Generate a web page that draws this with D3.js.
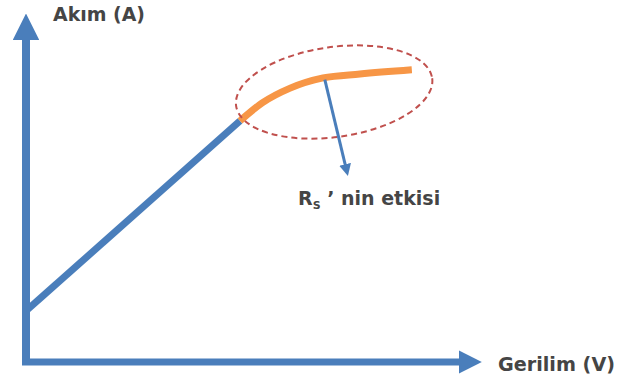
<!DOCTYPE html>
<meta charset="utf-8">
<script src="https://d3js.org/d3.v7.min.js"></script>
<style>
  body { margin: 0; background: #fff; }
  text { font-family: "DejaVu Sans", sans-serif; font-weight: bold; fill: #454545; }
</style>
<div id="my_dataviz"></div>
<script>
    // data (arbitrary units: voltage 0..100, current 0..100)
    var linearV = [0, 48.2];
    var linearI = [14.5, 68.5];
    var satV = [48.2, 53.2, 59.5, 66.9, 75.2, 86.9];
    var satI = [68.5, 73.6, 77.8, 80.7, 81.8, 83.0];
    var xLabel = "Gerilim (V)";
    var yLabel = "Akım (A)";

    var width = 617, height = 385;

    var xScale = d3.scaleLinear().domain([0, 100]).range([26, 470]);
    var yScale = d3.scaleLinear().domain([0, 100]).range([362, 10]);

    var svg = d3.select("#my_dataviz")
        .append("svg")
        .attr("width", width)
        .attr("height", height);

    var blue = "#4a7ebb", orange = "#f79646";

    var defs = svg.append("defs");
    defs.append("marker")
        .attr("id", "axisHead")
        .attr("viewBox", "0 0 10 10")
        .attr("refX", 2).attr("refY", 5)
        .attr("markerWidth", 3.3).attr("markerHeight", 3.3)
        .attr("markerUnits", "strokeWidth")
        .attr("orient", "auto")
        .append("path")
        .attr("d", "M0,0 L10,5 L0,10 Z")
        .attr("fill", blue);
    defs.append("marker")
        .attr("id", "smallHead")
        .attr("viewBox", "0 0 10 10")
        .attr("refX", 2).attr("refY", 5)
        .attr("markerWidth", 4).attr("markerHeight", 4)
        .attr("markerUnits", "strokeWidth")
        .attr("orient", "auto")
        .append("path")
        .attr("d", "M0,0 L10,5 L0,10 Z")
        .attr("fill", blue);

    // axes
    svg.append("path")
        .attr("d", `M${xScale(0)},${yScale(0)} L${xScale(0)},${yScale(93)}`)
        .attr("stroke", blue).attr("stroke-width", 8).attr("fill", "none")
        .attr("marker-end", "url(#axisHead)");
    svg.append("path")
        .attr("d", `M${xScale(0) - 4},${yScale(0)} L${xScale(98.5)},${yScale(0)}`)
        .attr("stroke", blue).attr("stroke-width", 7).attr("fill", "none")
        .attr("marker-end", "url(#axisHead)");

    svg.append("text")
        .attr("x", 53).attr("y", 21)
        .attr("font-size", 19)
        .attr("textLength", 92).attr("lengthAdjust", "spacingAndGlyphs")
        .text(yLabel);
    svg.append("text")
        .attr("x", 498).attr("y", 371)
        .attr("font-size", 19)
        .attr("textLength", 117).attr("lengthAdjust", "spacingAndGlyphs")
        .text(xLabel);

    // linear region
    svg.append("path")
        .datum(d3.zip(linearV, linearI))
        .attr("fill", "none")
        .attr("stroke", blue)
        .attr("stroke-width", 7)
        .attr("d", d3.line()
            .x(function (d) { return xScale(d[0]) })
            .y(function (d) { return yScale(d[1]) }));

    // series resistance region
    svg.append("path")
        .datum(d3.zip(satV, satI))
        .attr("fill", "none")
        .attr("stroke", orange)
        .attr("stroke-width", 7)
        .attr("d", d3.line()
            .curve(d3.curveMonotoneX)
            .x(function (d) { return xScale(d[0]) })
            .y(function (d) { return yScale(d[1]) }));

    // dashed ellipse
    var cx = xScale(69.4), cy = yScale(76.7);
    svg.append("ellipse")
        .attr("cx", cx).attr("cy", cy)
        .attr("rx", 99).attr("ry", 45)
        .attr("transform", `rotate(-8,${cx},${cy})`)
        .attr("fill", "none")
        .attr("stroke", "#c0504d")
        .attr("stroke-width", 2)
        .attr("stroke-dasharray", "6,4");

    // pointer
    svg.append("path")
        .attr("d", `M${xScale(67.3)},${yScale(80.2)} L${xScale(72)},${yScale(55.5)}`)
        .attr("stroke", blue).attr("stroke-width", 3).attr("fill", "none")
        .attr("marker-end", "url(#smallHead)");

    var lab = svg.append("text")
        .attr("x", 298).attr("y", 205)
        .attr("font-size", 19);
    lab.append("tspan").text("R");
    lab.append("tspan").attr("font-size", 11).attr("dy", 4).text("S");
    lab.append("tspan").attr("dy", -4).text(" ’ nin etkisi");
</script>
